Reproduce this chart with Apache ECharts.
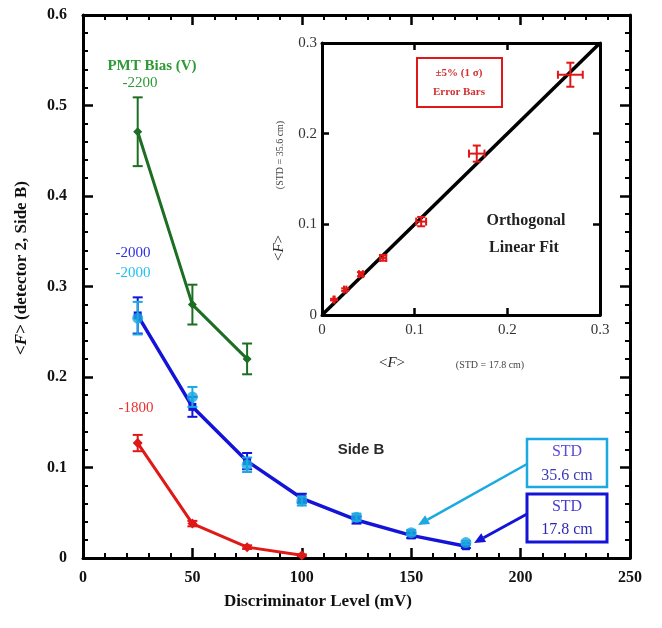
<!DOCTYPE html>
<html>
<head>
<meta charset="utf-8">
<script src="https://cdn.jsdelivr.net/npm/echarts@6/dist/echarts.min.js"></script>
<style>
  html, body { margin: 0; padding: 0; background: #fff; }
  #chart { width: 662px; height: 628px; }
</style>
</head>
<body>
<div id="chart"></div>
<script>
// discriminator levels (mV)
const levels = [25, 50, 75, 100, 125, 150, 175];
// -2000 V, STD 17.8 cm (dark blue)
const std178 = [0.268, 0.167, 0.107, 0.066, 0.042, 0.025, 0.013];
const std178Err = [0.020, 0.011, 0.009, 0.005, 0.004, 0.003, 0.002];
// -2000 V, STD 35.6 cm (light blue)
const std356 = [0.265, 0.178, 0.103, 0.063, 0.045, 0.028, 0.017];
const std356Err = [0.018, 0.011, 0.008, 0.005, 0.004, 0.003, 0.002];
// -2200 V
const levels2200 = [25, 50, 75];
const bias2200 = [0.471, 0.280, 0.220];
const bias2200Err = [0.038, 0.022, 0.017];
// -1800 V
const levels1800 = [25, 50, 75, 100];
const bias1800 = [0.127, 0.038, 0.012, 0.003];
const bias1800Err = [0.009, 0.003, 0.002, 0.001];
// inset: orthogonal linear fit end points
const fitX = [0, 0.3];
const fitY = [0, 0.3];
const insetErrFrac = 0.05;

const GREEN = '#1b6e22', GREEN_TXT = '#2e9a35';
const BLUE = '#1414d8', CYAN = '#1aa9e0', RED = '#e01818';
const SERIF = '"Liberation Serif", "DejaVu Serif", serif';

function pairs(xs, ys, es) {
  return xs.map((x, i) => es ? [x, ys[i], es[i]] : [x, ys[i]]);
}

// vertical error bar with caps
function vErr(params, api) {
  const x = api.value(0), y = api.value(1), e = api.value(2);
  const t = api.coord([x, y + e]), b = api.coord([x, y - e]);
  const c = 5;
  const st = { stroke: api.visual('color'), lineWidth: 2 };
  return { type: 'group', children: [
    { type: 'line', shape: { x1: t[0], y1: t[1], x2: b[0], y2: b[1] }, style: st },
    { type: 'line', shape: { x1: t[0] - c, y1: t[1], x2: t[0] + c, y2: t[1] }, style: st },
    { type: 'line', shape: { x1: b[0] - c, y1: b[1], x2: b[0] + c, y2: b[1] }, style: st }
  ]};
}

// x and y error bars (inset)
function xyErr(params, api) {
  const x = api.value(0), y = api.value(1);
  const ex = x * insetErrFrac, ey = y * insetErrFrac;
  const t = api.coord([x, y + ey]), b = api.coord([x, y - ey]);
  const l = api.coord([x - ex, y]), r = api.coord([x + ex, y]);
  const c = 4;
  const st = { stroke: RED, lineWidth: 2 };
  return { type: 'group', children: [
    { type: 'line', shape: { x1: t[0], y1: t[1], x2: b[0], y2: b[1] }, style: st },
    { type: 'line', shape: { x1: t[0] - c, y1: t[1], x2: t[0] + c, y2: t[1] }, style: st },
    { type: 'line', shape: { x1: b[0] - c, y1: b[1], x2: b[0] + c, y2: b[1] }, style: st },
    { type: 'line', shape: { x1: l[0], y1: l[1], x2: r[0], y2: r[1] }, style: st },
    { type: 'line', shape: { x1: l[0], y1: l[1] - c, x2: l[0], y2: l[1] + c }, style: st },
    { type: 'line', shape: { x1: r[0], y1: r[1] - c, x2: r[0], y2: r[1] + c }, style: st }
  ]};
}

function arrow(x1, y1, x2, y2, color, w) {
  const a = Math.atan2(y2 - y1, x2 - x1), L = 11, W = 5;
  const bx = x2 - L * Math.cos(a), by = y2 - L * Math.sin(a);
  const px = -Math.sin(a) * W, py = Math.cos(a) * W;
  return { type: 'group', z: 100, children: [
    { type: 'line', shape: { x1: x1, y1: y1, x2: bx, y2: by }, style: { stroke: color, lineWidth: w } },
    { type: 'polygon', shape: { points: [[x2, y2], [bx + px, by + py], [bx - px, by - py]] }, style: { fill: color } }
  ]};
}

function txt(x, y, text, color, font) {
  return { type: 'text', x: x, y: y, z: 100,
    style: { text: text, fill: color, font: font || ('15px ' + SERIF),
      align: 'center', verticalAlign: 'middle' } };
}

const mainAxisBase = {
  min: 0, axisLine: { onZero: false, lineStyle: { color: '#000', width: 3 } },
  axisTick: { inside: true, length: 10, lineStyle: { color: '#000', width: 2.5 } },
  minorTick: { show: true, splitNumber: 5, length: 5, lineStyle: { color: '#000', width: 2 } },
  splitLine: { show: false }
};
const insetAxisBase = {
  min: 0, max: 0.3, interval: 0.1,
  axisLine: { onZero: false, lineStyle: { color: '#000', width: 3 } },
  axisTick: { inside: true, length: 7, lineStyle: { color: '#000', width: 2.5 } },
  splitLine: { show: false }
};
const fmt1 = v => v === 0 ? '0' : v.toFixed(1);

const option = {
  backgroundColor: '#fff',
  animation: false,
  grid: [
    { left: 83, top: 15, width: 547, height: 543 },
    { left: 322, top: 43, width: 278, height: 272, show: true, backgroundColor: '#fff', borderWidth: 0, z: 3 }
  ],
  xAxis: [
    Object.assign({}, mainAxisBase, { gridIndex: 0, type: 'value', max: 250, interval: 50, position: 'bottom',
      axisLabel: { color: '#111', fontFamily: SERIF, fontWeight: 'bold', fontSize: 16, margin: 12 } }),
    Object.assign({}, mainAxisBase, { gridIndex: 0, type: 'value', max: 250, interval: 50, position: 'top',
      axisLabel: { show: false } }),
    Object.assign({}, insetAxisBase, { gridIndex: 1, type: 'value', position: 'bottom',
      axisLabel: { formatter: fmt1, color: '#333', fontFamily: SERIF, fontSize: 15, margin: 8 }, z: 4 }),
    Object.assign({}, insetAxisBase, { gridIndex: 1, type: 'value', position: 'top',
      axisLabel: { show: false }, z: 4 })
  ],
  yAxis: [
    Object.assign({}, mainAxisBase, { gridIndex: 0, type: 'value', max: 0.6, interval: 0.1, position: 'left',
      axisLabel: { formatter: fmt1, color: '#111', fontFamily: SERIF, fontWeight: 'bold', fontSize: 16, margin: 16 } }),
    Object.assign({}, mainAxisBase, { gridIndex: 0, type: 'value', max: 0.6, interval: 0.1, position: 'right',
      axisLabel: { show: false } }),
    Object.assign({}, insetAxisBase, { gridIndex: 1, type: 'value', position: 'left',
      axisLabel: { formatter: fmt1, color: '#333', fontFamily: SERIF, fontSize: 15, margin: 5 }, z: 4 }),
    Object.assign({}, insetAxisBase, { gridIndex: 1, type: 'value', position: 'right',
      axisLabel: { show: false }, z: 4 })
  ],
  series: [
    // -2200
    { type: 'custom', xAxisIndex: 0, yAxisIndex: 0, renderItem: vErr, itemStyle: { color: GREEN },
      data: pairs(levels2200, bias2200, bias2200Err), z: 3 },
    { type: 'line', xAxisIndex: 0, yAxisIndex: 0, data: pairs(levels2200, bias2200),
      lineStyle: { color: GREEN, width: 3 }, itemStyle: { color: GREEN }, symbol: 'diamond', symbolSize: 9, z: 4 },
    // -2000, STD 17.8
    { type: 'custom', xAxisIndex: 0, yAxisIndex: 0, renderItem: vErr, itemStyle: { color: BLUE },
      data: pairs(levels, std178, std178Err), z: 3 },
    { type: 'line', xAxisIndex: 0, yAxisIndex: 0, data: pairs(levels, std178),
      lineStyle: { color: BLUE, width: 3.5 }, itemStyle: { color: BLUE }, symbol: 'rect', symbolSize: 8, z: 4 },
    // -2000, STD 35.6
    { type: 'custom', xAxisIndex: 0, yAxisIndex: 0, renderItem: vErr, itemStyle: { color: CYAN },
      data: pairs(levels, std356, std356Err), z: 5 },
    { type: 'scatter', xAxisIndex: 0, yAxisIndex: 0, data: pairs(levels, std356),
      itemStyle: { color: CYAN }, symbol: 'circle', symbolSize: 11, z: 6 },
    // -1800
    { type: 'custom', xAxisIndex: 0, yAxisIndex: 0, renderItem: vErr, itemStyle: { color: RED },
      data: pairs(levels1800, bias1800, bias1800Err), z: 3 },
    { type: 'line', xAxisIndex: 0, yAxisIndex: 0, data: pairs(levels1800, bias1800),
      lineStyle: { color: RED, width: 3 }, itemStyle: { color: RED }, symbol: 'diamond', symbolSize: 10, z: 4 },
    // inset
    { type: 'line', xAxisIndex: 2, yAxisIndex: 2, data: pairs(fitX, fitY), symbol: 'none',
      lineStyle: { color: '#000', width: 3.5 }, z: 5 },
    { type: 'custom', xAxisIndex: 2, yAxisIndex: 2, renderItem: xyErr, data: pairs(std178, std356), z: 6 }
  ],
  graphic: [
    // main y axis title
    { type: 'text', x: 22, y: 268, rotation: Math.PI / 2, z: 100,
      style: { text: '<{i|F}> (detector 2, Side B)', fill: '#111', font: 'bold 17px ' + SERIF,
        align: 'center', verticalAlign: 'middle',
        rich: { i: { fontStyle: 'italic', fontWeight: 'bold', fontFamily: SERIF, fontSize: 17, fill: '#111' } } } },
    txt(318, 602, 'Discriminator Level (mV)', '#111', 'bold 17px ' + SERIF),
    // bias labels
    txt(152, 66, 'PMT Bias (V)', GREEN_TXT, 'bold 15px ' + SERIF),
    txt(140, 83, '-2200', GREEN_TXT),
    txt(133, 253, '-2000', '#3030e0'),
    txt(133, 273, '-2000', '#22c0f0'),
    txt(136, 408, '-1800', '#ee3030'),
    txt(361, 450, 'Side B', '#2a2a2a', 'bold 15px "Liberation Sans", Arial, sans-serif'),
    // STD boxes
    { type: 'rect', z: 100, shape: { x: 527, y: 439, width: 80, height: 48 },
      style: { fill: '#fff', stroke: CYAN, lineWidth: 2.5 } },
    txt(567, 452, 'STD', '#5a4ad8', '16px ' + SERIF),
    txt(567, 476, '35.6 cm', '#3a3ab8', '16px ' + SERIF),
    { type: 'rect', z: 100, shape: { x: 527, y: 494, width: 80, height: 48 },
      style: { fill: '#fff', stroke: BLUE, lineWidth: 3 } },
    txt(567, 507, 'STD', '#4a3ad0', '16px ' + SERIF),
    txt(567, 530, '17.8 cm', '#2a2ab0', '16px ' + SERIF),
    arrow(527, 464, 418, 525, CYAN, 2.5),
    arrow(527, 514, 474, 543, BLUE, 3),
    // inset labels
    { type: 'text', x: 279, y: 248, rotation: Math.PI / 2, z: 100,
      style: { text: '<{i|F}>', fill: '#222', font: '15px ' + SERIF, align: 'center', verticalAlign: 'middle',
        rich: { i: { fontStyle: 'italic', fontFamily: SERIF, fontSize: 15, fill: '#222' } } } },
    { type: 'text', x: 280, y: 155, rotation: Math.PI / 2, z: 100,
      style: { text: '(STD = 35.6 cm)', fill: '#444', font: '10px ' + SERIF, align: 'center', verticalAlign: 'middle' } },
    { type: 'text', x: 392, y: 363, z: 100,
      style: { text: '<{i|F}>', fill: '#222', font: '15px ' + SERIF, align: 'center', verticalAlign: 'middle',
        rich: { i: { fontStyle: 'italic', fontFamily: SERIF, fontSize: 15, fill: '#222' } } } },
    txt(490, 365, '(STD = 17.8 cm)', '#444', '10px ' + SERIF),
    // inset annotations
    { type: 'rect', z: 100, shape: { x: 417, y: 58, width: 85, height: 49 },
      style: { fill: '#fff', stroke: RED, lineWidth: 2 } },
    txt(459, 73, '±5% (1 σ)', '#d03030', 'bold 11px ' + SERIF),
    txt(459, 92, 'Error Bars', '#d03030', 'bold 11px ' + SERIF),
    arrow(502, 73, 549, 73, RED, 2.5),
    arrow(481, 107, 481, 144, RED, 1.5),
    arrow(475, 220, 455, 193, '#111', 2.5),
    txt(526, 221, 'Orthogonal', '#222', 'bold 16px ' + SERIF),
    txt(524, 248, 'Linear Fit', '#222', 'bold 16px ' + SERIF)
  ]
};

const chart = echarts.init(document.getElementById('chart'));
chart.setOption(option);
</script>
</body>
</html>
